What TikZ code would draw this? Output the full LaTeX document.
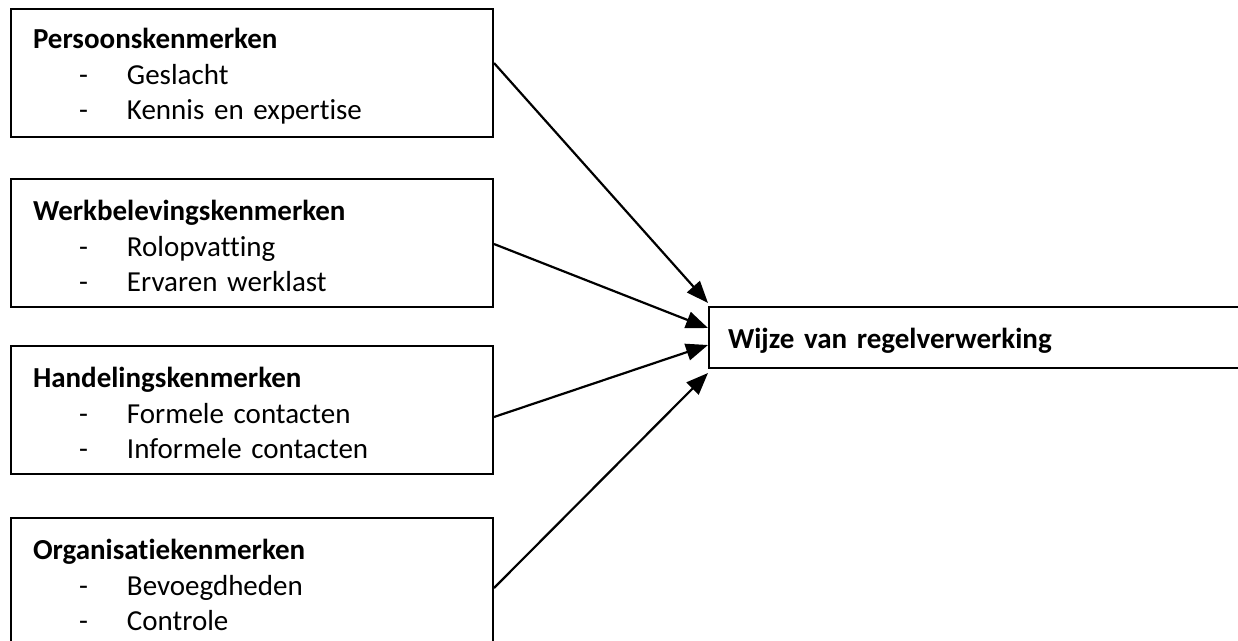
\documentclass[tikz,border=0pt]{standalone}
\usepackage{fontspec}
\setmainfont{Carlito}[Ligatures={NoCommon}]
\usepackage{tikz}
\usetikzlibrary{arrows.meta, calc}

\tikzset{
    kenmerk/.style={draw, line width=2pt, anchor=north west, minimum width=482pt, minimum height=128pt,
        text width=438pt, inner xsep=22pt, align=left, font=\fontsize{29}{35.5}\selectfont},
    uitkomst/.style={draw, line width=2pt, anchor=north west, minimum width=560pt, minimum height=61pt,
        text width=522pt, inner xsep=19pt, align=left, font=\fontsize{29}{35.5}\selectfont\bfseries},
    pijl/.style={line width=2.2pt, -{Triangle[length=22pt,width=17pt]}}
}
\newcommand{\kop}[1]{\rule{0pt}{27pt}\textbf{#1}}
\newcommand{\kpunt}[1]{\hspace*{46pt}\makebox[48pt][l]{-}#1}

\begin{document}
\begin{tikzpicture}[x=1pt, y=-1pt]
        \useasboundingbox (0,0) rectangle (1238,640);

        \node[kenmerk] (persoon) at (10,8) {\kop{Persoonskenmerken}\\ \kpunt{Geslacht}\\ \kpunt{Kennis en expertise}};
        \node[kenmerk] (werk) at (10,178) {\kop{Werkbelevingskenmerken}\\ \kpunt{Rolopvatting}\\ \kpunt{Ervaren werklast}};
        \node[kenmerk] (handeling) at (10,345) {\kop{Handelingskenmerken}\\ \kpunt{Formele contacten}\\ \kpunt{Informele contacten}};
        \node[kenmerk] (organisatie) at (10,517) {\kop{Organisatiekenmerken}\\ \kpunt{Bevoegdheden}\\ \kpunt{Controle}};

        \node[uitkomst] (wijze) at (708,306) {\rule{0pt}{27pt}Wijze van regelverwerking};

        \draw[pijl] ($(persoon.east)+(0,-10)$) -- ($(wijze.north west)+(0,-3)$);
        \draw[pijl] ($(werk.east)+(0,1)$) -- ($(wijze.west)+(0,-9.5)$);
        \draw[pijl] ($(handeling.east)+(0,7)$) -- ($(wijze.west)+(0,7.5)$);
        \draw[pijl] ($(organisatie.east)+(0,6)$) -- ($(wijze.south west)+(0,4)$);

    \end{tikzpicture}
\end{document}
